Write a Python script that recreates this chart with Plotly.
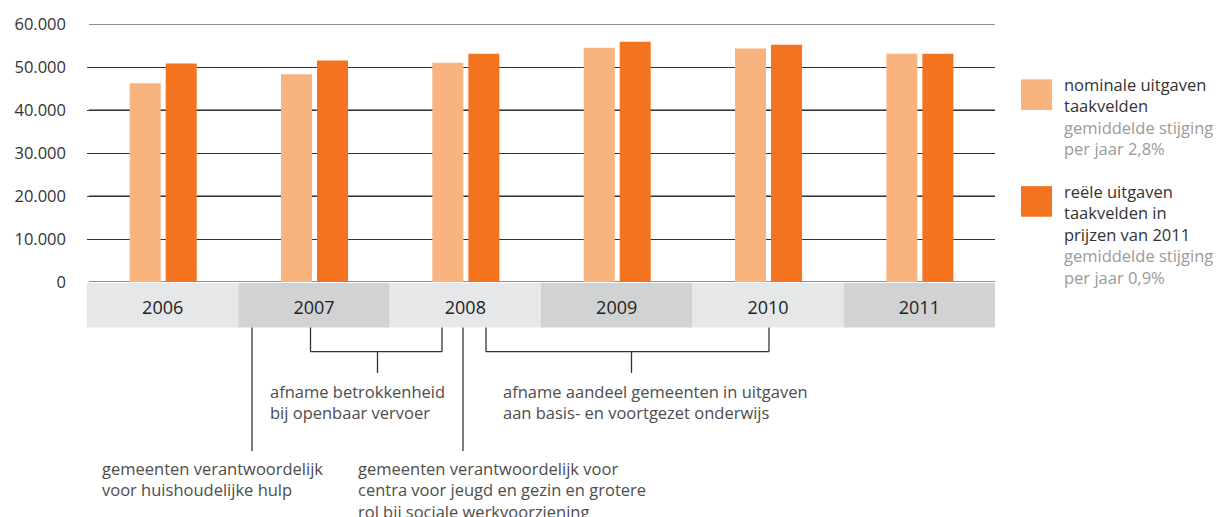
import plotly.graph_objects as go

years = ["2006", "2007", "2008", "2009", "2010", "2011"]
nominaal = [46200, 48300, 51000, 54500, 54300, 53100]
reeel = [50800, 51500, 53100, 55900, 55200, 53100]
y_ticks = [0, 10000, 20000, 30000, 40000, 50000, 60000]
y_ticklabels = ["0", "10.000", "20.000", "30.000", "40.000", "50.000", "60.000"]

legend_nominaal = ["nominale uitgaven", "taakvelden"]
legend_nominaal_sub = ["gemiddelde stijging", "per jaar 2,8%"]
legend_reeel = ["reële uitgaven", "taakvelden in", "prijzen van 2011"]
legend_reeel_sub = ["gemiddelde stijging", "per jaar 0,9%"]

notes = {
    "ov": ["afname betrokkenheid", "bij openbaar vervoer"],
    "onderwijs": ["afname aandeel gemeenten in uitgaven", "aan basis- en voortgezet onderwijs"],
    "hulp": ["gemeenten verantwoordelijk", "voor huishoudelijke hulp"],
    "jeugd": ["gemeenten verantwoordelijk voor", "centra voor jeugd en gezin en grotere",
              "rol bij sociale werkvoorziening"],
}

C_NOM = "#f9b37f"
C_REAL = "#f37321"
FONT = "Open Sans"
FS = 16.5

W, H = 1220, 517
L, R, T, B = 87, 225, 21, 235
PW, PH = W - L - R, H - T - B


def px(x):
    return (x - L) / PW


def py(y):
    return (H - B - y) / PH


fig = go.Figure()
fig.add_trace(go.Bar(x=years, y=nominaal, name="nominaal", marker_color=C_NOM,
                     marker_line_width=0, width=0.205, offset=-0.218, showlegend=False))
fig.add_trace(go.Bar(x=years, y=reeel, name="reëel", marker_color=C_REAL,
                     marker_line_width=0, width=0.205, offset=0.02, showlegend=False))

shapes = []
# grey gridlines (every other)
for i, v in enumerate(y_ticks):
    if i % 2 == 0:
        shapes.append(dict(type="line", xref="paper", yref="y", x0=px(89), x1=1, y0=v, y1=v,
                           line=dict(color="#8e8e8e", width=2), layer="between"))
# category bands
for i, yr in enumerate(years):
    shapes.append(dict(type="rect", xref="x", yref="paper", x0=i - 0.5, x1=i + 0.5,
                       y0=py(328), y1=py(283), fillcolor="#e6e7e9" if i % 2 == 0 else "#d1d2d4",
                       line_width=0, layer="below"))

LC = "#333333"
LW = 1.3


def vline(x, y0, y1):
    shapes.append(dict(type="line", xref="paper", yref="paper", x0=px(x), x1=px(x),
                       y0=py(y0), y1=py(y1), line=dict(color=LC, width=LW)))


def hline(x0, x1, y):
    shapes.append(dict(type="line", xref="paper", yref="paper", x0=px(x0), x1=px(x1),
                       y0=py(y), y1=py(y), line=dict(color=LC, width=LW)))


# single markers
vline(252, 328, 453)
vline(463, 328, 453)
# bracket 1
vline(310.5, 328, 352.5)
vline(442, 328, 352.5)
hline(310.5, 442, 352.5)
vline(377.5, 352.5, 374)
# bracket 2
vline(486, 328, 352.5)
vline(769, 328, 352.5)
hline(486, 769, 352.5)
vline(631.5, 352.5, 374)

# legend swatches
shapes.append(dict(type="rect", xref="paper", yref="paper", x0=px(1021), x1=px(1052),
                   y0=py(108), y1=py(77), fillcolor=C_NOM, line_width=0))
shapes.append(dict(type="rect", xref="paper", yref="paper", x0=px(1021), x1=px(1052),
                   y0=py(216), y1=py(185), fillcolor=C_REAL, line_width=0))

annotations = []
TXT = "#4d4d4d"


def note(x, ytop, lines, color=TXT, size=FS):
    annotations.append(dict(xref="paper", yref="paper", x=px(x), y=py(ytop), xanchor="left",
                            yanchor="top", align="left", showarrow=False,
                            text="<br>".join(lines), font=dict(family=FONT, size=size, color=color)))


note(268, 379, notes["ov"])
note(501, 379, notes["onderwijs"])
note(100, 457, notes["hulp"])
note(356, 457, notes["jeugd"])

grey = "#9a9a9a"
leg1 = "<br>".join(legend_nominaal + [f"<span style='color:{grey}'>{t}</span>" for t in legend_nominaal_sub])
leg2 = "<br>".join(legend_reeel + [f"<span style='color:{grey}'>{t}</span>" for t in legend_reeel_sub])
annotations.append(dict(xref="paper", yref="paper", x=px(1062), y=py(69), xanchor="left", yanchor="top",
                        align="left", showarrow=False, text=leg1,
                        font=dict(family=FONT, size=FS, color="#333333")))
annotations.append(dict(xref="paper", yref="paper", x=px(1062), y=py(177), xanchor="left", yanchor="top",
                        align="left", showarrow=False, text=leg2,
                        font=dict(family=FONT, size=FS, color="#333333")))

fig.update_layout(
    width=W, height=H,
    margin=dict(l=L, r=R, t=T, b=B, pad=0),
    paper_bgcolor="white", plot_bgcolor="white",
    barmode="overlay",
    font=dict(family=FONT, size=FS, color="#333333"),
    shapes=shapes, annotations=annotations,
    xaxis=dict(type="category", range=[-0.5, 5.5], showgrid=False, showline=False, zeroline=False,
               ticks="", ticklabelstandoff=13, tickfont=dict(size=18, color="#222222")),
    yaxis=dict(range=[0, 60000], tickvals=y_ticks, ticktext=y_ticklabels, showgrid=True,
               gridcolor="#333333", gridwidth=1.3, zeroline=False, showline=False,
               ticks="", ticklabelstandoff=20, tickfont=dict(size=16.5, color="#333333")),
)

fig.write_html("out.html", config={"displayModeBar": False},
               post_script="document.body.style.margin='0';document.body.style.overflow='hidden';")
